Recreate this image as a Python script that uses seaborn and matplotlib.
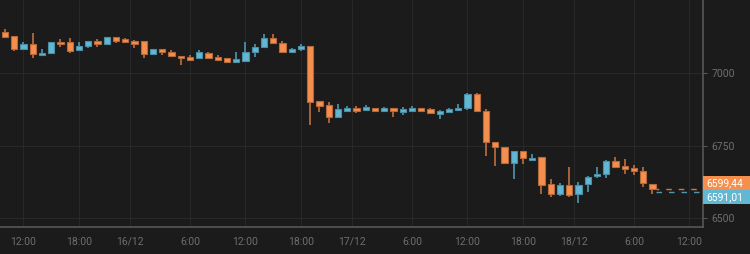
import matplotlib
matplotlib.use("Agg")
import matplotlib.pyplot as plt
from matplotlib.patches import Rectangle
import seaborn as sns
import numpy as np

# Hourly candles, starting 15/12 10:00
open_ = [7142, 7128, 7083, 7101, 7061, 7070, 7108, 7108, 7079, 7093,
         7111, 7100, 7123, 7116, 7110, 7110, 7067, 7082, 7073, 7059,
         7054, 7052, 7070, 7054, 7051, 7039, 7043, 7071, 7089, 7120,
         7104, 7074, 7083, 7094, 6902, 6890, 6847, 6869, 6878, 6872,
         6880, 6869, 6878, 6866, 6869, 6878, 6875, 6859, 6866, 6872,
         6879, 6929, 6868, 6763, 6746, 6689, 6731, 6699, 6709, 6616,
         6583, 6615, 6582, 6616, 6644, 6651, 6696, 6679, 6672, 6661,
         6618]
high = [7151, 7128, 7106, 7139, 7082, 7108, 7116, 7122, 7106, 7111,
        7117, 7123, 7123, 7121, 7114, 7110, 7082, 7082, 7081, 7059,
        7062, 7078, 7074, 7062, 7051, 7072, 7107, 7100, 7134, 7134,
        7111, 7087, 7100, 7094, 6903, 6901, 6892, 6886, 6887, 6889,
        6880, 6882, 6878, 6882, 6886, 6878, 6878, 6872, 6878, 6892,
        6930, 6930, 6875, 6763, 6746, 6731, 6731, 6720, 6709, 6636,
        6620, 6677, 6625, 6646, 6675, 6700, 6709, 6703, 6682, 6675,
        6618]
low = [7120, 7077, 7083, 7051, 7061, 7068, 7091, 7070, 7079, 7087,
       7091, 7100, 7102, 7107, 7085, 7051, 7066, 7064, 7056, 7029,
       7042, 7052, 7048, 7042, 7034, 7039, 7040, 7056, 7085, 7099,
       7068, 7074, 7076, 6821, 6864, 6829, 6847, 6869, 6863, 6872,
       6869, 6869, 6847, 6855, 6869, 6869, 6861, 6841, 6863, 6872,
       6874, 6867, 6714, 6678, 6688, 6633, 6688, 6699, 6582, 6571,
       6576, 6573, 6553, 6591, 6639, 6639, 6675, 6651, 6648, 6608,
       6582]
close = [7125, 7082, 7101, 7067, 7069, 7108, 7099, 7076, 7094, 7111,
         7099, 7123, 7111, 7107, 7100, 7066, 7082, 7073, 7059, 7053,
         7045, 7071, 7052, 7045, 7039, 7048, 7071, 7091, 7120, 7102,
         7073, 7082, 7094, 6901, 6887, 6847, 6875, 6878, 6869, 6882,
         6869, 6878, 6869, 6875, 6878, 6869, 6863, 6869, 6875, 6881,
         6929, 6868, 6763, 6744, 6691, 6731, 6706, 6708, 6613, 6583,
         6615, 6579, 6615, 6642, 6653, 6697, 6675, 6670, 6661, 6620,
         6599.44]
last_price = 6599.44
second_price = 6591.01
price_labels = ["6599,44", "6591,01"]

tick_hours = [2, 8, 13.5, 20, 26, 32, 37.5, 44, 50, 56, 61.5, 68, 74]
tick_labels = ["12:00", "18:00", "16/12", "6:00", "12:00", "18:00", "17/12",
               "6:00", "12:00", "18:00", "18/12", "6:00", "12:00"]
y_ticks = [6500, 6750, 7000]

BG = "#1b1b1b"
GRID = "#282828"
SPINE = "#575757"
TXT = "#6e6e6e"
ORANGE = "#f68f4d"
BLUE = "#62b7d2"
ORANGE_D = "#b5683a"
BLUE_D = "#4a8ea5"

sns.set_theme(style="dark", rc={
    "figure.facecolor": BG, "axes.facecolor": BG,
    "axes.edgecolor": SPINE, "grid.color": GRID,
})
plt.rcParams['font.family'] = ['Roboto', 'DejaVu Sans']

fig = plt.figure(figsize=(7.5, 2.54), dpi=100)
ax = fig.add_axes([0, 27 / 254, 703 / 750, 227 / 254])
ax.set_facecolor(BG)

o = np.array(open_, float); c = np.array(close, float)
h = np.array(high, float); l = np.array(low, float)
x = np.arange(len(o))
up = c >= o
cols = np.where(up, BLUE, ORANGE)
dcols = np.where(up, BLUE_D, ORANGE_D)

ax.vlines(x, l, h, colors=dcols, linewidth=1.3, zorder=2)
bottoms = np.minimum(o, c)
heights = np.maximum(np.abs(c - o), 2.5)
ax.bar(x, heights, bottom=bottoms, width=0.7, color=cols,
       edgecolor=dcols, linewidth=0.8, zorder=3)

# last-price dashed lines
xe = [x[-1] + 0.4, 75.5]
ax.plot(xe, [second_price] * 2, color=BLUE, lw=1, ls=(0, (4, 5)), zorder=2, alpha=0.8)
ax.plot(xe, [last_price] * 2, color=ORANGE, lw=1, ls=(2, (4, 5)), zorder=2, alpha=0.8)

ax.set_xlim(-0.54, 75.46)
ax.set_ylim(6469, 7252)

ax.set_xticks(tick_hours)
ax.set_xticklabels(tick_labels)
ax.set_yticks(y_ticks)
ax.set_yticklabels([str(v) for v in y_ticks])
ax.yaxis.tick_right()
ax.tick_params(axis='both', colors=SPINE, labelcolor=TXT, labelsize=7.5,
               length=3, width=0.8, direction='out')
ax.tick_params(axis='x', pad=4)
ax.tick_params(axis='y', pad=3)
ax.grid(True, color=GRID, linewidth=0.8)
for side in ["left", "top"]:
    ax.spines[side].set_visible(False)
for side in ["right", "bottom"]:
    ax.spines[side].set_visible(True)
    ax.spines[side].set_color(SPINE)
    ax.spines[side].set_linewidth(1.2)

# price boxes at right
fig.canvas.draw()
mid = (last_price + second_price) / 2
_, ypix = ax.transData.transform((0, mid))
W, H = fig.bbox.width, fig.bbox.height
bx0 = ax.get_position().x1
bw = 1 - bx0
bh = 14 / H
yc = ypix / H
for i, (lab, col) in enumerate(zip(price_labels, [ORANGE, BLUE])):
    y0 = yc if i == 0 else yc - bh
    fig.patches.append(Rectangle((bx0, y0), bw, bh, transform=fig.transFigure,
                                 facecolor=col, edgecolor='none', zorder=5))
    fig.text(bx0 + 3 / W, y0 + bh / 2, lab, color="white", fontsize=7.5,
             va='center', ha='left', zorder=6)

fig.savefig("out.png", dpi=100, facecolor=BG)
